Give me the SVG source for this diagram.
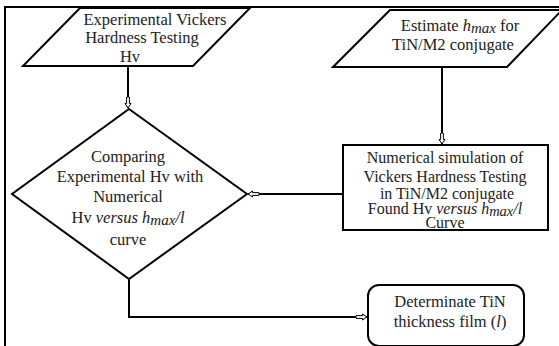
<svg xmlns="http://www.w3.org/2000/svg" width="559" height="346" viewBox="0 0 559 346">
<style>
.s{fill:#fff;stroke:#000;stroke-width:2}
.c{fill:none;stroke:#000;stroke-width:2}
text{font-family:"Liberation Serif",Tinos,"Times New Roman","DejaVu Serif",serif;font-size:16.5px;fill:#222;text-anchor:middle}
.i{font-style:italic}
.t{font-size:16px}
</style>
<defs>
<marker id="a" markerUnits="userSpaceOnUse" viewBox="0 0 12 8" refX="11.5" refY="4" markerWidth="12" markerHeight="8" orient="auto">
<path d="M0.5,2.6 L7,2.6 L7,1 L11.5,4 L7,7 L7,5.4 L0.5,5.4 Z" fill="#fff" stroke="#000" stroke-width="1"/>
</marker>
</defs>
<rect width="559" height="346" fill="#fff"/>
<path d="M5,346 L5,7 L559,7" fill="none" stroke="#000" stroke-width="2"/>
<g id="connectors">
<path class="c" d="M128,66 L128,108" marker-end="url(#a)"/>
<path class="c" d="M442,67 L442,144" marker-end="url(#a)"/>
<path class="c" d="M343,194 L248,194" marker-end="url(#a)"/>
<path class="c" d="M129,279 L129,317 L367,317" marker-end="url(#a)"/>
</g>
<g id="exp">
<polygon class="s" points="80,8 250,8 193,66 23,66"/>
<text x="155" y="25">Experimental Vickers</text>
<text x="142" y="43">Hardness Testing</text>
<text x="130" y="62">Hv</text>
</g>
<g id="estimate">
<polygon class="s" points="390,10 562,10 507,67 333,67"/>
<text x="460" y="31">Estimate <tspan class="i">h</tspan><tspan class="i" font-size="15" dy="2">max</tspan><tspan dx="4" dy="-2">for</tspan></text>
<text x="453" y="50">TiN/M2 conjugate</text>
</g>
<g id="numerical">
<rect class="s" x="343" y="145" width="205" height="85"/>
<text class="t" x="445" y="163">Numerical simulation of</text>
<text class="t" x="445" y="182">Vickers Hardness Testing</text>
<text class="t" x="447" y="199">in TiN/M2 conjugate</text>
<text class="t" x="445" y="214">Found Hv <tspan class="i">versus h</tspan><tspan class="i" font-size="14.5" dy="2">max</tspan><tspan class="i" dy="-2">/l</tspan></text>
<text class="t" x="445" y="228">Curve</text>
</g>
<g id="compare">
<polygon class="s" points="129,109 247,194 129,279 12,194"/>
<text x="128" y="162">Comparing</text>
<text x="130" y="182">Experimental Hv with</text>
<text x="128" y="202">Numerical</text>
<text x="128" y="223">Hv <tspan class="i">versus h</tspan><tspan class="i" font-size="15" dy="2">max</tspan><tspan class="i" dy="-2">/l</tspan></text>
<text x="128" y="245">curve</text>
</g>
<g id="determinate">
<rect class="s" x="368" y="285" width="156" height="61" rx="11"/>
<text x="450" y="307">Determinate TiN</text>
<text x="450" y="327">thickness film (<tspan class="i">l</tspan>)</text>
</g>
</svg>
